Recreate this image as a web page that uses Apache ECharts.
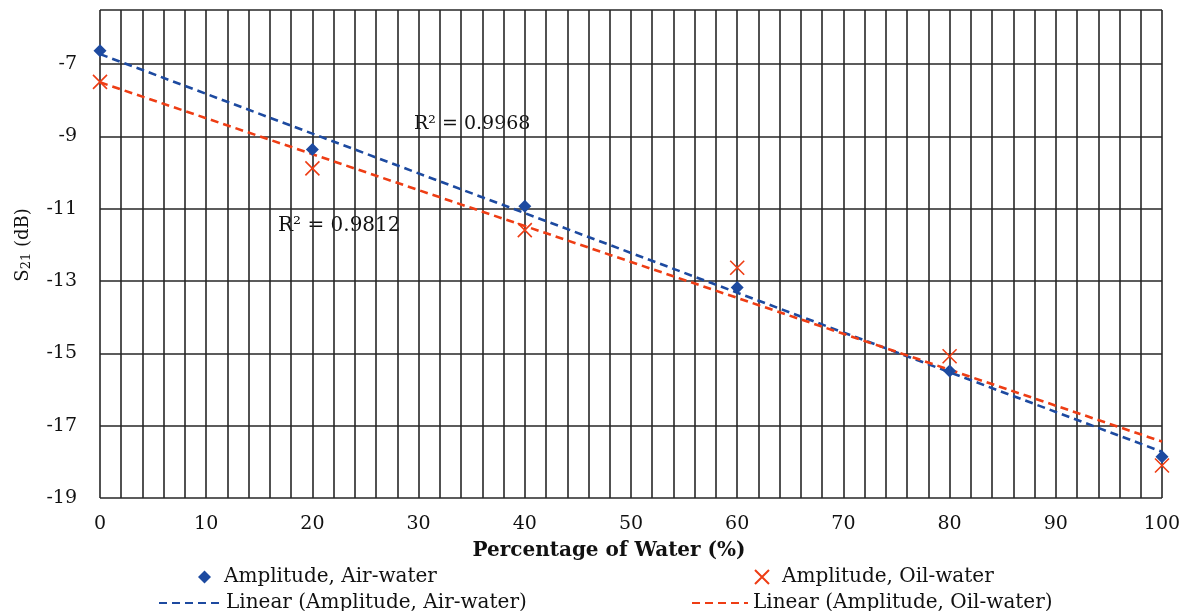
<!DOCTYPE html>
<html>
<head>
<meta charset="utf-8">
<script src="https://cdn.jsdelivr.net/npm/echarts@6/dist/echarts.min.js"></script>
<style>
  html, body { margin: 0; padding: 0; background: #fff; }
  #chart { width: 1189px; height: 611px; }
</style>
</head>
<body>
<div id="chart"></div>
<script>
// water percentage for each measurement
var waterPct = [0, 20, 40, 60, 80, 100];
// S21 amplitude readings (dB)
var airWater = [-6.63, -9.36, -10.93, -13.18, -15.49, -17.86];
var oilWater = [-7.49, -9.88, -11.59, -12.63, -15.08, -18.1];
// trendline end points, at 0% and 100%
var trendX = [0, 100];
var airTrend = [-6.72, -17.72];
var oilTrend = [-7.5, -17.44];
var r2Labels = ['R\u00b2 = 0.9968', 'R\u00b2 = 0.9812'];

// the picture is stretched sideways, DejaVu Serif is the closest wide serif
var FONT = '"DejaVu Serif", "Liberation Serif", serif';
var BLUE = '#1d4aa0';
var RED = '#ee3d14';
var GRID = '#262626';

function pairs(xs, ys) {
  return xs.map(function (x, i) { return [x, ys[i]]; });
}

var chart = echarts.init(document.getElementById('chart'));

var legendText = { fontFamily: FONT, fontSize: 20, color: '#111' };
var symbolLegendText = { fontFamily: FONT, fontSize: 20, color: '#111', padding: [0, 0, 0, 8] };

var option = {
  backgroundColor: '#fff',
  animation: false,
  grid: { left: 100, right: 27, top: 10, bottom: 113 },
  xAxis: {
    type: 'value',
    min: 0,
    max: 100,
    interval: 10,
    name: 'Percentage of Water (%)',
    nameLocation: 'middle',
    nameGap: 43,
    nameTextStyle: { fontFamily: FONT, fontSize: 20, fontWeight: 'bold', color: '#111', padding: [0, 44, 0, 0] },
    axisLine: { show: false },
    axisTick: { show: false },
    axisLabel: { fontFamily: FONT, fontSize: 19, color: '#111', margin: 17 },
    splitLine: { show: true, lineStyle: { color: GRID, width: 1.6 } },
    minorTick: { show: false, splitNumber: 5 },
    minorSplitLine: { show: true, lineStyle: { color: GRID, width: 1.6 } }
  },
  yAxis: {
    type: 'value',
    min: -19,
    max: -5.5,
    interval: 2,
    name: '{s|S}{sub|21}{s| (dB)}',
    nameLocation: 'middle',
    nameGap: 67,
    nameRotate: 90,
    nameTextStyle: {
      padding: [0, 0, 0, 18],
      rich: {
        s: { fontFamily: FONT, fontSize: 18, color: '#111' },
        sub: { fontFamily: FONT, fontSize: 13, color: '#111', verticalAlign: 'bottom', padding: [6, 0, 0, 0] }
      }
    },
    axisLine: { show: false },
    axisTick: { show: false },
    axisLabel: { fontFamily: FONT, fontSize: 19, color: '#111', margin: 23, showMaxLabel: false },
    splitLine: { show: true, lineStyle: { color: GRID, width: 1.6 } }
  },
  legend: [
    { data: ['Amplitude, Air-water'], left: 198, top: 567, padding: 0, itemWidth: 13, itemHeight: 13, textStyle: symbolLegendText },
    { data: ['Amplitude, Oil-water'], left: 754, top: 567, padding: 0, itemWidth: 14, itemHeight: 14, textStyle: symbolLegendText },
    { data: ['Linear (Amplitude, Air-water)'], left: 158, top: 593, padding: 0, itemWidth: 62, itemHeight: 14,
      itemStyle: { opacity: 0 }, textStyle: legendText },
    { data: ['Linear (Amplitude, Oil-water)'], left: 691, top: 593, padding: 0, itemWidth: 56, itemHeight: 14,
      itemStyle: { opacity: 0 }, textStyle: legendText }
  ],
  graphic: [
    { type: 'text', left: 414, top: 115, style: { text: r2Labels[0], fontFamily: FONT, fontSize: 19, fill: '#111' } },
    { type: 'text', left: 278, top: 216, style: { text: r2Labels[1], fontFamily: FONT, fontSize: 20, fill: '#111' } }
  ],
  series: [
    {
      name: 'Linear (Amplitude, Air-water)',
      type: 'line',
      data: pairs(trendX, airTrend),
      symbol: 'none',
      lineStyle: { color: BLUE, width: 2.6, type: [8, 5] },
      itemStyle: { color: BLUE },
      z: 3
    },
    {
      name: 'Linear (Amplitude, Oil-water)',
      type: 'line',
      data: pairs(trendX, oilTrend),
      symbol: 'none',
      lineStyle: { color: RED, width: 2.6, type: [8, 5] },
      itemStyle: { color: RED },
      z: 3
    },
    {
      name: 'Amplitude, Air-water',
      type: 'scatter',
      data: pairs(waterPct, airWater),
      symbol: 'diamond',
      symbolSize: 13,
      itemStyle: { color: BLUE, opacity: 1 },
      z: 4
    },
    {
      name: 'Amplitude, Oil-water',
      type: 'scatter',
      data: pairs(waterPct, oilWater),
      symbol: 'path://M0,0 L10,10 M10,0 L0,10',
      symbolSize: 14,
      itemStyle: { color: 'rgba(0,0,0,0)', borderColor: RED, borderWidth: 1.6, opacity: 1 },
      z: 4
    }
  ]
};

chart.setOption(option);
</script>
</body>
</html>
